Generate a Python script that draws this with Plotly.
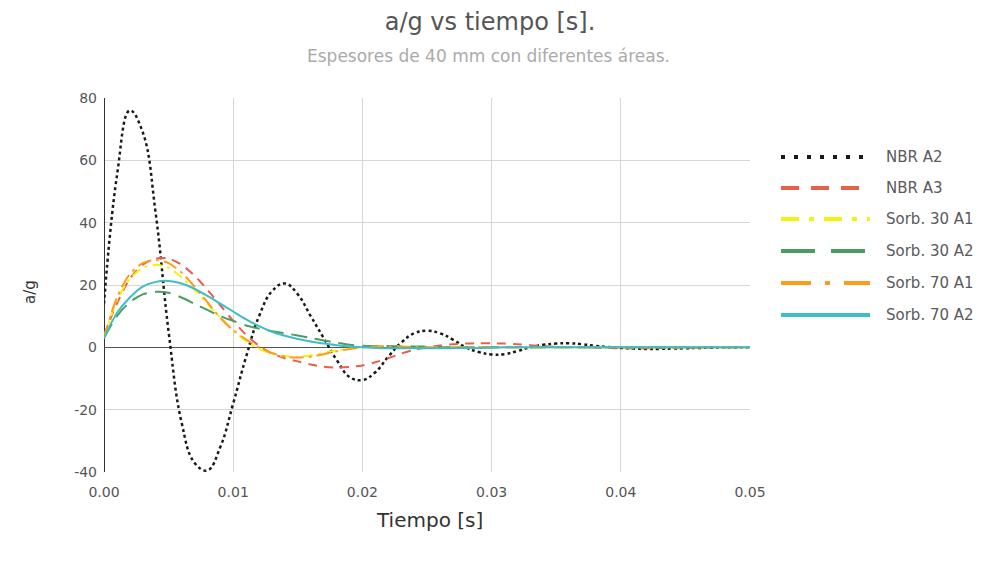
import plotly.graph_objects as go

# Time axis (s)
tiempo = [round(i * 0.001, 3) for i in range(51)]

# Acceleration ratios a/g per specimen
nbr_a2 = [14, 55, 76, 69, 43, 5, -24, -37, -39.5, -32,
          -18, -3, 10, 18, 20.5, 17, 10, 3, -4, -9.5,
          -10.5, -8, -3, 1.5, 4.5, 5.3, 4.5, 2.5, 0, -1.5,
          -2.3, -2.2, -1.2, 0, 0.8, 1.2, 1.3, 1.0, 0.5, 0.1,
          -0.2, -0.4, -0.5, -0.5, -0.4, -0.3, -0.2, -0.1, 0, 0, 0]
nbr_a3 = [4, 14, 22, 26.5, 28.5, 28.5, 26.5, 23, 18.5, 13.5,
          8.5, 4, 0.5, -2, -3.5, -4.5, -5.5, -6.2, -6.5, -6.3,
          -5.8, -4.8, -3.5, -2, -0.8, 0, 0.6, 1.0, 1.2, 1.3,
          1.3, 1.2, 1.0, 0.7, 0.4, 0.2, 0.1, 0, -0.1, -0.2,
          -0.3, -0.3, -0.3, -0.2, -0.2, -0.1, -0.1, 0, 0, 0, 0]
sorb30_a1 = [3, 15, 22, 25.5, 26.5, 25.5, 22.5, 18.5, 14, 9.5,
             5.5, 2, -0.5, -2, -2.8, -3, -2.6, -1.8, -1, -0.4,
             0, 0.2, 0.3, 0.3, 0.2, 0.1, 0, 0, 0, 0,
             0, 0, 0, 0, 0, 0, 0, 0, 0, 0,
             0, 0, 0, 0, 0, 0, 0, 0, 0, 0, 0]
sorb30_a2 = [3, 10, 14.5, 17, 17.8, 17.5, 16, 14, 12, 10,
             8.5, 7, 6, 5.2, 4.5, 3.8, 3, 2.2, 1.5, 0.8,
             0.5, 0.4, 0.4, 0.3, 0.3, 0.2, 0.1, 0, 0, 0,
             0, 0, 0, 0, 0, 0, 0, 0, 0, 0,
             0, 0, 0, 0, 0, 0, 0, 0, 0, 0, 0]
sorb70_a1 = [3, 16, 23.5, 27, 28, 27, 24, 19.5, 14.5, 9.5,
             5.5, 2.5, 0, -1.8, -3, -3.3, -3, -2.2, -1.3, -0.5,
             0, 0.3, 0.3, 0.2, 0.1, 0, 0, 0, 0, 0,
             0, 0, 0, 0, 0, 0, 0, 0, 0, 0,
             0, 0, 0, 0, 0, 0, 0, 0, 0, 0, 0]
sorb70_a2 = [3, 11, 16, 19.5, 21, 21.3, 20.5, 18.8, 16.5, 14,
             11.5, 9, 6.8, 5, 3.7, 2.7, 1.9, 1.2, 0.7, 0.3,
             0, -0.2, -0.3, -0.3, -0.3, -0.3, -0.3, -0.3, -0.2, -0.2,
             -0.1, 0, 0, 0, 0, 0, 0, 0, 0, 0,
             0, 0, 0, 0, 0, 0, 0, 0, 0, 0, 0]

series_names = ["NBR A2", "NBR A3", "Sorb. 30 A1", "Sorb. 30 A2", "Sorb. 70 A1", "Sorb. 70 A2"]
series_values = [nbr_a2, nbr_a3, sorb30_a1, sorb30_a2, sorb70_a1, sorb70_a2]
series_colors = ["#1a1a1a", "#e8604c", "#f2f20a", "#4a9d5f", "#ff9a1a", "#3dbdc6"]
plot_dash = ["dot", "9px,7px", "10px,5px,3px,5px", "16px,8px", "14px,5px,3px,5px", "solid"]
plot_width = [2.5, 2, 2, 2, 2, 2]
plot_smoothing = [1.2, 0.8, 0.8, 0.8, 0.8, 0.8]
legend_dash = ["4px,9px", "18px,12px", "18px,10px,5px,10px", "34px,16px", "30px,14px,5px,14px", "solid"]

x_ticks = [0.0, 0.01, 0.02, 0.03, 0.04, 0.05]
x_tick_labels = ["0.00", "0.01", "0.02", "0.03", "0.04", "0.05"]
y_ticks = [-40, -20, 0, 20, 40, 60, 80]
y_tick_labels = ["-40", "-20", "0", "20", "40", "60", "80"]

FONT = "DejaVu Sans, Liberation Sans, Arial, sans-serif"

fig = go.Figure()
for name, vals, col, dash, w, sm in zip(series_names, series_values, series_colors,
                                        plot_dash, plot_width, plot_smoothing):
    fig.add_trace(go.Scatter(
        x=tiempo, y=vals, name=name, mode="lines",
        line=dict(color=col, dash=dash, width=w, shape="spline", smoothing=sm),
        showlegend=False,
    ))

# Plot area in pixels (used to lay out the legend on the right)
L, R, T, B = 104, 231, 98, 90
W, H = 981, 562
pw, ph = W - L - R, H - T - B

def px_x(p):
    return (p - L) / pw

def px_y(p):
    return (H - B - p) / ph

shapes = []
annotations = []
row_y = [157, 188, 219, 251, 283, 315]
for name, col, dash, yy in zip(series_names, series_colors, legend_dash, row_y):
    shapes.append(dict(type="line", xref="paper", yref="paper",
                       x0=px_x(781), x1=px_x(870), y0=px_y(yy), y1=px_y(yy),
                       line=dict(color=col, dash=dash, width=4)))
    annotations.append(dict(xref="paper", yref="paper", x=px_x(884), y=px_y(yy),
                            text=name, showarrow=False, xanchor="left", yanchor="middle",
                            font=dict(family=FONT, size=15, color="#5a5a5a")))

annotations.append(dict(xref="paper", yref="paper", x=px_x(429), y=px_y(520),
                        text="Tiempo [s]", showarrow=False, xanchor="center", yanchor="middle",
                        font=dict(family=FONT, size=20, color="#333")))
annotations.append(dict(xref="paper", yref="paper", x=px_x(30), y=px_y(292),
                        text="a/g", showarrow=False, textangle=-90, xanchor="center", yanchor="middle",
                        font=dict(family=FONT, size=15, color="#333")))
annotations.append(dict(xref="paper", yref="paper", x=px_x(488), y=px_y(56),
                        text="Espesores de 40 mm con diferentes áreas.", showarrow=False,
                        xanchor="center", yanchor="middle",
                        font=dict(family=FONT, size=17, color="#aaa")))

fig.update_layout(
    width=W, height=H,
    margin=dict(l=L, r=R, t=T, b=B),
    paper_bgcolor="white", plot_bgcolor="white",
    title=dict(text="a/g vs tiempo [s].", x=490 / W, xanchor="center", xref="container",
               y=1 - 22 / H, yanchor="middle", yref="container",
               font=dict(family=FONT, size=24, color="#555")),
    shapes=shapes, annotations=annotations,
    xaxis=dict(range=[0, 0.05], tickvals=x_ticks, ticktext=x_tick_labels,
               showgrid=True, gridcolor="#d6d6d6", gridwidth=1,
               zeroline=True, zerolinecolor="#333", zerolinewidth=1,
               showline=False, ticks="", ticklabelstandoff=10,
               tickfont=dict(family=FONT, size=14, color="#555")),
    yaxis=dict(range=[-40, 80], tickvals=y_ticks, ticktext=y_tick_labels,
               showgrid=True, gridcolor="#d6d6d6", gridwidth=1,
               zeroline=True, zerolinecolor="#555", zerolinewidth=1,
               showline=False, ticks="", ticklabelstandoff=6,
               tickfont=dict(family=FONT, size=14, color="#555")),
    showlegend=False,
)

fig.write_html("out.html")
